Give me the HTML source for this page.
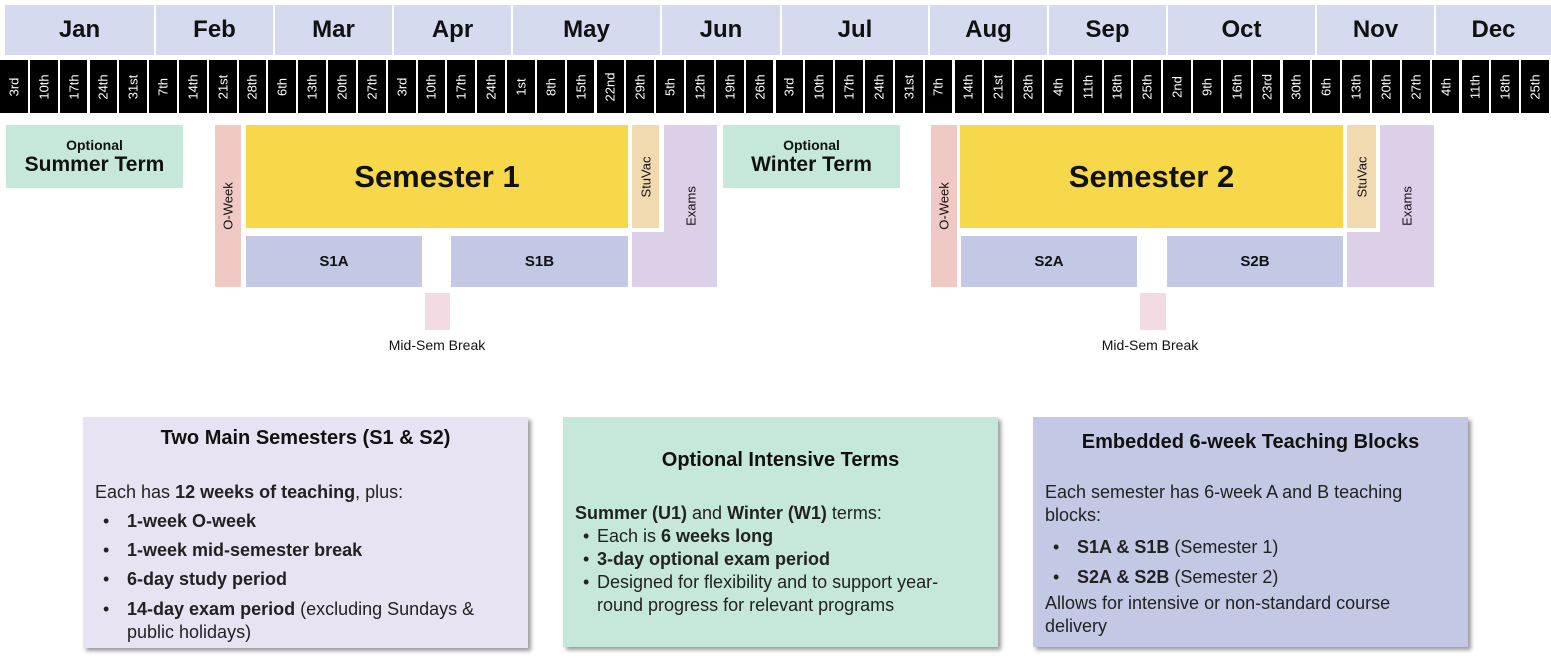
<!DOCTYPE html>
<html><head><meta charset="utf-8"><style>
*{margin:0;padding:0;box-sizing:border-box}
body{width:1551px;height:669px;background:#fff;position:relative;overflow:hidden;font-family:"Liberation Sans",sans-serif;color:#111}
.a{position:absolute}
.m{position:absolute;top:5px;height:50px;background:#d5daee;display:flex;align-items:center;justify-content:center;font-weight:bold;font-size:24px}
.w{position:absolute;top:60px;height:53px;background:#000;border-right:2px solid #fff;}
.w span{position:absolute;left:50%;top:50%;transform:translate(-50%,-50%) rotate(-90deg);color:#fff;font-size:13px;white-space:nowrap}
.c{display:flex;align-items:center;justify-content:center;text-align:center;font-weight:bold}
.v{position:absolute;left:50%;top:50%;transform:translate(-50%,-50%) rotate(-90deg);white-space:nowrap;font-size:13px}
.box{position:absolute;box-shadow:3px 3px 4px rgba(0,0,0,.4);font-size:18px;line-height:23px;color:#222}
.box h3{font-size:20px;text-align:center;font-weight:bold;color:#111}
.box ul{list-style:none}
.box li{position:relative;padding-left:32px}
.box li:before{content:"•";position:absolute;left:8px}
</style></head><body>
<div class="m" style="left:5px;width:149px">Jan</div>
<div class="m" style="left:156px;width:117px">Feb</div>
<div class="m" style="left:275px;width:117px">Mar</div>
<div class="m" style="left:394px;width:117px">Apr</div>
<div class="m" style="left:513px;width:147px">May</div>
<div class="m" style="left:662px;width:118px">Jun</div>
<div class="m" style="left:782px;width:146px">Jul</div>
<div class="m" style="left:930px;width:117px">Aug</div>
<div class="m" style="left:1049px;width:117px">Sep</div>
<div class="m" style="left:1168px;width:147px">Oct</div>
<div class="m" style="left:1317px;width:117px">Nov</div>
<div class="m" style="left:1436px;width:115px">Dec</div>
<div id="wk"></div>
<script>
var d="3rd 10th 17th 24th 31st 7th 14th 21st 28th 6th 13th 20th 27th 3rd 10th 17th 24th 1st 8th 15th 22nd 29th 5th 12th 19th 26th 3rd 10th 17th 24th 31st 7th 14th 21st 28th 4th 11th 18th 25th 2nd 9th 16th 23rd 30th 6th 13th 20th 27th 4th 11th 18th 25th".split(" ");
var h="";var W=1551/52;
for(var i=0;i<52;i++){h+='<div class="w" style="left:'+(i*W).toFixed(1)+'px;width:'+W.toFixed(1)+'px"><span>'+d[i]+'</span></div>';}
document.getElementById("wk").innerHTML=h;
</script>
<div class="a c" style="left:6px;top:125px;width:177px;height:63px;background:#c5e8da;flex-direction:column"><div style="font-size:14px">Optional</div><div style="font-size:21px">Summer Term</div></div>
<div class="a c" style="left:723px;top:125px;width:177px;height:63px;background:#c5e8da;flex-direction:column"><div style="font-size:14px">Optional</div><div style="font-size:21px">Winter Term</div></div>

<div class="a" style="left:215px;top:125px;width:26px;height:162px;background:#f0c9c4"><div class="v">O-Week</div></div>
<div class="a c" style="left:246px;top:125px;width:382px;height:103px;background:#f6d84a;font-size:31px">Semester 1</div>
<div class="a" style="left:632px;top:125px;width:27px;height:103px;background:#f1d9b0"><div class="v">StuVac</div></div>
<div class="a" style="left:632px;top:232px;width:85px;height:55px;background:#dcd0e8"></div>
<div class="a" style="left:664px;top:125px;width:53px;height:162px;background:#dcd0e8"><div class="v">Exams</div></div>
<div class="a c" style="left:246px;top:236px;width:176px;height:51px;background:#c3c8e4;font-size:15px">S1A</div>
<div class="a c" style="left:451px;top:236px;width:177px;height:51px;background:#c3c8e4;font-size:15px">S1B</div>
<div class="a" style="left:425px;top:293px;width:25px;height:37px;background:#f3dbe3"></div>
<div class="a" style="left:367px;top:337px;width:140px;text-align:center;font-size:14px">Mid-Sem Break</div>

<div class="a" style="left:931px;top:125px;width:26px;height:162px;background:#f0c9c4"><div class="v">O-Week</div></div>
<div class="a c" style="left:960px;top:125px;width:383px;height:103px;background:#f6d84a;font-size:31px">Semester 2</div>
<div class="a" style="left:1347px;top:125px;width:29px;height:103px;background:#f1d9b0"><div class="v">StuVac</div></div>
<div class="a" style="left:1347px;top:232px;width:87px;height:55px;background:#dcd0e8"></div>
<div class="a" style="left:1380px;top:125px;width:54px;height:162px;background:#dcd0e8"><div class="v">Exams</div></div>
<div class="a c" style="left:961px;top:236px;width:176px;height:51px;background:#c3c8e4;font-size:15px">S2A</div>
<div class="a c" style="left:1167px;top:236px;width:176px;height:51px;background:#c3c8e4;font-size:15px">S2B</div>
<div class="a" style="left:1140px;top:293px;width:26px;height:37px;background:#f3dbe3"></div>
<div class="a" style="left:1080px;top:337px;width:140px;text-align:center;font-size:14px">Mid-Sem Break</div>

<div class="box" style="left:83px;top:417px;width:445px;height:231px;background:#e7e3f3;padding:10px 30px 0 12px">
<h3 style="margin-right:-18px">Two Main Semesters (S1 &amp; S2)</h3>
<div style="margin-top:28px;line-height:29px">Each has <b>12 weeks of teaching</b>, plus:</div>
<ul style="line-height:29px"><li><b>1-week O-week</b></li><li><b>1-week mid-semester break</b></li><li><b>6-day study period</b></li><li style="line-height:23px;padding-top:4px"><b>14-day exam period</b> (excluding Sundays &amp; public holidays)</li></ul>
</div>
<div class="box" style="left:563px;top:417px;width:435px;height:230px;background:#c5e8da;padding:32px 20px 0 12px">
<h3 style="margin-right:-8px">Optional Intensive Terms</h3>
<div style="margin-top:30px"><b>Summer (U1)</b> and <b>Winter (W1)</b> terms:</div>
<ul><li style="padding-left:22px">Each is <b>6 weeks long</b></li><li style="padding-left:22px"><b>3-day optional exam period</b></li><li style="padding-left:22px">Designed for flexibility and to support year-round progress for relevant programs</li></ul>
</div>
<div class="box" style="left:1033px;top:417px;width:435px;height:230px;background:#c3c8e4;padding:14px 35px 0 12px">
<h3 style="margin-right:-23px">Embedded 6-week Teaching Blocks</h3>
<div style="margin-top:27px">Each semester has 6-week A and B teaching blocks:</div>
<ul style="line-height:30px;margin-top:5px"><li><b>S1A &amp; S1B</b> (Semester 1)</li><li><b>S2A &amp; S2B</b> (Semester 2)</li></ul>
<div>Allows for intensive or non-standard course delivery</div>
</div>
</body></html>
